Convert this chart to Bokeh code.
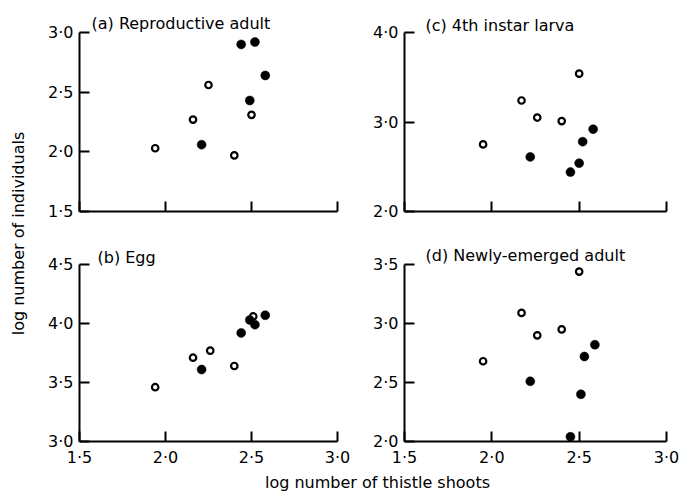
import math
from bokeh.plotting import figure
from bokeh.layouts import row, column
from bokeh.models import Range1d, FixedTicker
from bokeh.core.properties import value
from bokeh.embed import file_html
from bokeh.resources import INLINE

FONT = "DejaVu Sans"

# ---------------- data ----------------
x_ticks = [1.5, 2.0, 2.5, 3.0]
x_tick_labels = ["1·5", "2·0", "2·5", "3·0"]

a_title = "(a) Reproductive adult"
a_x_open = [1.94, 2.16, 2.25, 2.40, 2.50]
a_y_open = [2.03, 2.27, 2.56, 1.97, 2.31]
a_x_fill = [2.21, 2.44, 2.52, 2.49, 2.58]
a_y_fill = [2.06, 2.90, 2.92, 2.43, 2.64]
a_y_ticks = [1.5, 2.0, 2.5, 3.0]
a_y_tick_labels = ["1·5", "2·0", "2·5", "3·0"]

b_title = "(b) Egg"
b_x_open = [1.94, 2.16, 2.26, 2.40, 2.51]
b_y_open = [3.46, 3.71, 3.77, 3.64, 4.06]
b_x_fill = [2.21, 2.44, 2.49, 2.52, 2.58]
b_y_fill = [3.61, 3.92, 4.03, 3.99, 4.07]
b_y_ticks = [3.0, 3.5, 4.0, 4.5]
b_y_tick_labels = ["3·0", "3·5", "4·0", "4·5"]

c_title = "(c) 4th instar larva"
c_x_open = [1.95, 2.17, 2.26, 2.40, 2.50]
c_y_open = [2.75, 3.24, 3.05, 3.01, 3.54]
c_x_fill = [2.22, 2.45, 2.50, 2.52, 2.58]
c_y_fill = [2.61, 2.44, 2.54, 2.78, 2.92]
c_y_ticks = [2.0, 3.0, 4.0]
c_y_tick_labels = ["2·0", "3·0", "4·0"]

d_title = "(d) Newly-emerged adult"
d_x_open = [1.95, 2.17, 2.26, 2.40, 2.50]
d_y_open = [2.68, 3.09, 2.90, 2.95, 3.44]
d_x_fill = [2.22, 2.45, 2.51, 2.53, 2.59]
d_y_fill = [2.51, 2.04, 2.40, 2.72, 2.82]
d_y_ticks = [2.0, 2.5, 3.0, 3.5]
d_y_tick_labels = ["2·0", "2·5", "3·0", "3·5"]

y_label = "log number of individuals"
x_label = "log number of thistle shoots"

TICK_LEN = 10  # px, ticks point into the plot


def style_axis(ax, ticks, labels, show_labels=True):
    ax.ticker = FixedTicker(ticks=ticks, minor_ticks=[])
    ax.major_label_overrides = {t: (l if show_labels else "") for t, l in zip(ticks, labels)}
    ax.axis_line_color = "black"
    ax.axis_line_width = 2
    ax.major_tick_line_color = "black"
    ax.major_tick_line_width = 2
    ax.major_tick_in = TICK_LEN
    ax.major_tick_out = 0
    ax.minor_tick_in = 0
    ax.minor_tick_out = 0
    ax.major_label_text_font = FONT
    ax.major_label_text_font_size = "16px"
    ax.major_label_text_color = "black"
    ax.major_label_standoff = 6


def panel(title, xo, yo, xf, yf, yticks, ylabels, show_x, width, height,
          mbl, mbr, mbt, mbb, t_off, t_stand):
    p = figure(width=width, height=height,
               x_range=Range1d(x_ticks[0], x_ticks[-1]),
               y_range=Range1d(yticks[0], yticks[-1]),
               output_backend="svg", toolbar_location=None,
               min_border_left=mbl, min_border_right=mbr,
               min_border_top=mbt, min_border_bottom=mbb,
               title=title)
    p.title.align = "left"
    p.title.offset = t_off
    p.title.standoff = t_stand
    p.title.text_font = FONT
    p.title.text_font_size = "16px"
    p.title.text_font_style = "normal"
    p.title.text_color = "black"
    p.xgrid.visible = False
    p.ygrid.visible = False
    p.outline_line_color = None
    p.background_fill_color = None
    p.border_fill_color = None
    style_axis(p.xaxis[0], x_ticks, x_tick_labels, show_x)
    style_axis(p.yaxis[0], yticks, ylabels, True)
    p.scatter(xo, yo, marker="circle", size=6.5, fill_color="white",
              line_color="black", line_width=2.2)
    p.scatter(xf, yf, marker="circle", size=9, fill_color="black",
              line_color="black", line_width=0.5)
    return p


LW, RW = 326, 323
TH, BH = 238, 232

pa = panel(a_title, a_x_open, a_y_open, a_x_fill, a_y_fill, a_y_ticks, a_y_tick_labels,
           False, LW, TH, 45, 23, 32, 27, 12, -1)
pc = panel(c_title, c_x_open, c_y_open, c_x_fill, c_y_fill, c_y_ticks, c_y_tick_labels,
           False, RW, TH, 44, 17, 32, 27, 21, -5)
pb = panel(b_title, b_x_open, b_y_open, b_x_fill, b_y_fill, b_y_ticks, b_y_tick_labels,
           True, LW, BH, 45, 23, 26, 29, 18, -4)
pd_ = panel(d_title, d_x_open, d_y_open, d_x_fill, d_y_fill, d_y_ticks, d_y_tick_labels,
            True, RW, BH, 44, 17, 26, 29, 21, -1)


def strip(w, h):
    s = figure(width=w, height=h, x_range=Range1d(0, w), y_range=Range1d(h, 0),
               output_backend="svg", toolbar_location=None,
               x_axis_type=None, y_axis_type=None, min_border=0)
    s.outline_line_color = None
    s.background_fill_color = None
    s.border_fill_color = None
    return s


ys = strip(34, TH + BH)
ys.text(x=[18], y=[233], text=[y_label], angle=math.pi / 2,
        text_align="center", text_baseline="middle",
        text_font=value(FONT), text_font_size="16px", text_color="black")

xs = strip(LW + RW + 34, 22)
xs.text(x=[377], y=[12], text=[x_label], text_align="center",
        text_baseline="middle",
        text_font=value(FONT), text_font_size="16px", text_color="black")

layout = column(row(ys, column(row(pa, pc), row(pb, pd_))), xs)

open("out.html", "w").write(file_html(layout, INLINE))
